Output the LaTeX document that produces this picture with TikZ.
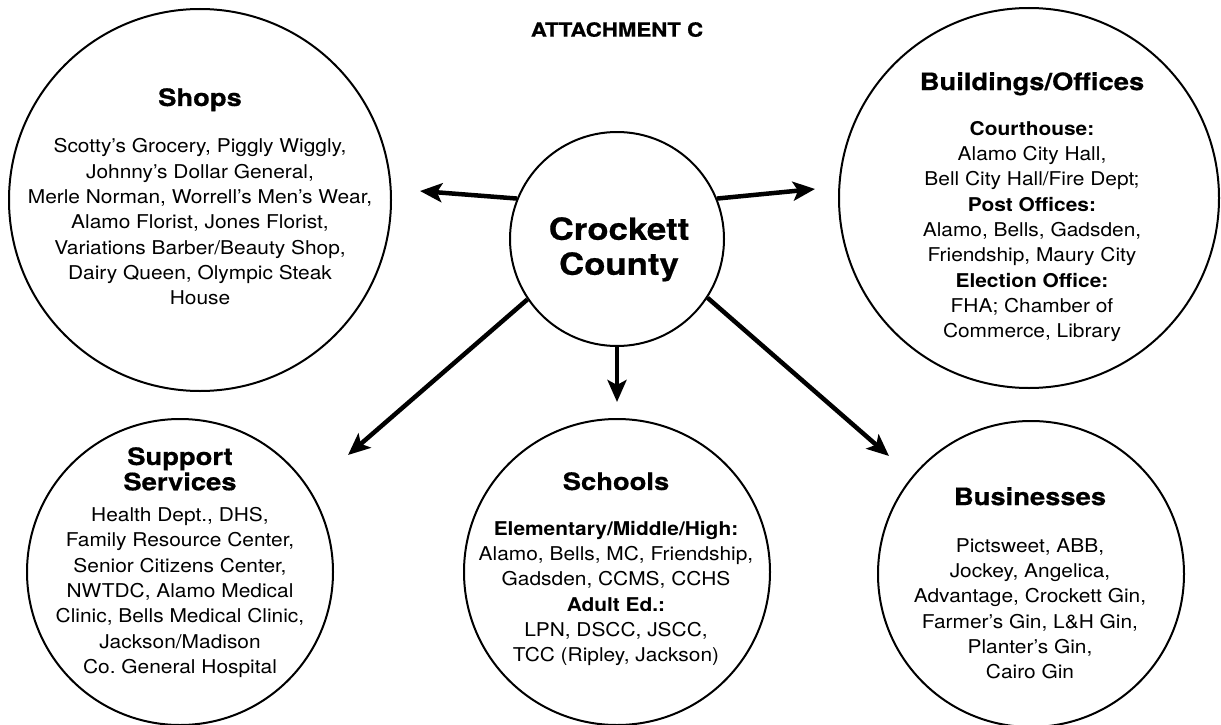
\documentclass[tikz,border=0pt]{standalone}
\usepackage{fontspec}
\setmainfont{TeX Gyre Heros}[FakeStretch=1.1]
\newfontfamily\ttlfam{TeX Gyre Heros}[FakeStretch=1.14,FakeBold=0.6]
\usetikzlibrary{arrows.meta}
\newcommand{\ttlfont}{\ttlfam\bfseries\fontsize{24}{25.3}\selectfont}
\frenchspacing
\begin{document}
\begin{tikzpicture}[x=1pt,y=-1pt,
  circ/.style={draw, circle, line width=2pt, inner sep=0pt},
  body/.style={align=center, inner sep=0pt, anchor=north, font=\fontsize{19}{25.3}\selectfont},
  arr/.style={line width=4.5pt, -{Stealth[length=22pt,width=19pt,inset=5pt]}}
]
\useasboundingbox (0,0) rectangle (1221,725);

% title
\node[anchor=north, inner sep=0pt, font=\ttlfam\bfseries\fontsize{19.5}{22}\selectfont] (title) at (617,22) {ATTACHMENT C};

% circles
\node[circ, minimum size=214pt] (cc) at (617,239) {};
\node[circ, minimum size=382pt] (shops) at (200,200) {};
\node[circ, minimum size=380pt] (build) at (1029,198) {};
\node[circ, minimum size=306pt] (support) at (180,572) {};
\node[circ, minimum size=306pt] (schools) at (617,572) {};
\node[circ, minimum size=306pt] (bus) at (1031,574) {};

% texts
\node[anchor=north, inner sep=0pt, align=center, font=\ttlfam\bfseries\fontsize{30.5}{35}\selectfont] (ccT) at (619,217) {Crockett\\County};

\node[body] (shopsT) at (200,88) {{\ttlfont Shops}\\[21.7pt]
Scotty’s Grocery, Piggly Wiggly,\\
Johnny’s Dollar General,\\
Merle Norman, Worrell’s Men’s Wear,\\
Alamo Florist, Jones Florist,\\
Variations Barber/Beauty Shop,\\
Dairy Queen, Olympic Steak\\
House};

\node[body] (buildT) at (1032,72) {{\ttlfont Buildings/Offices}\\[20pt]
\textbf{Courthouse:}\\
Alamo City Hall,\\
Bell City Hall/Fire Dept;\\
\textbf{Post Offices:}\\
Alamo, Bells, Gadsden,\\
Friendship, Maury City\\
\textbf{Election Office:}\\
FHA; Chamber of\\
Commerce, Library};

\node[body] (supportT) at (180,447) {{\ttlfont Support}\\{\ttlfont Services}\\[6pt]
Health Dept., DHS,\\
Family Resource Center,\\
Senior Citizens Center,\\
NWTDC, Alamo Medical\\
Clinic, Bells Medical Clinic,\\
Jackson/Madison\\
Co. General Hospital};

\node[body] (schoolsT) at (616,472) {{\ttlfont Schools}\\[20pt]
\textbf{Elementary/Middle/High:}\\
Alamo, Bells, MC, Friendship,\\
Gadsden, CCMS, CCHS\\
\textbf{Adult Ed.:}\\
LPN, DSCC, JSCC,\\
TCC (Ripley, Jackson)};

\node[body] (busT) at (1030,487) {{\ttlfont Businesses}\\[22pt]
Pictsweet, ABB,\\
Jockey, Angelica,\\
Advantage, Crockett Gin,\\
Farmer’s Gin, L\&H Gin,\\
Planter’s Gin,\\
Cairo Gin};

% arrow tips
\coordinate (tShops) at (420,191);
\coordinate (tBuild) at (815,189);
\coordinate (tSupport) at (348,455);
\coordinate (tBus) at (889,456);
\coordinate (tSchools) at (617,402);

\draw[arr] (cc.158.5) -- (tShops);
\draw[arr] (cc.22.8) -- (tBuild);
\draw[arr] (cc.214.4) -- (tSupport);
\draw[arr] (cc.327.6) -- (tBus);
\draw[arr] (cc.south) -- (tSchools);
\end{tikzpicture}
\end{document}
